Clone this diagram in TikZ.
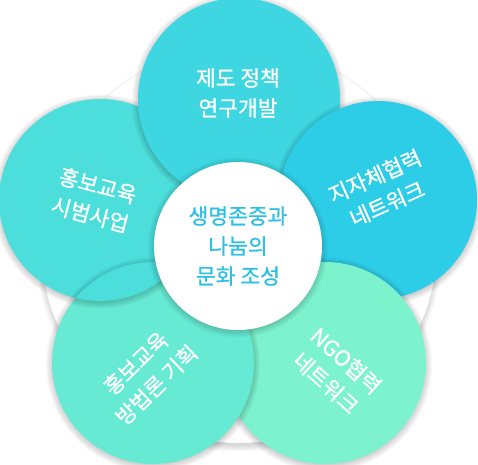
\documentclass[tikz,border=0pt]{standalone}
\usepackage{fontspec}
\setmainfont{Noto Sans CJK KR}
\newfontfamily\kfont[FakeBold=0.9]{Noto Sans CJK KR}
\definecolor{ctop}{HTML}{3DD6E1}
\definecolor{cright}{HTML}{2DCDE8}
\definecolor{cleft}{HTML}{4CDEDB}
\definecolor{cbl}{HTML}{66EAD3}
\definecolor{cbr}{HTML}{7CF2CD}
\definecolor{ctxt}{HTML}{2EC0E4}
\newcommand\softshadow[4]{%
  \foreach \k in {1,...,9}{\fill[black,opacity=#4] (#1,#2+1.5) circle[radius={(#3+\k*0.9)*1pt}];}}
\tikzset{
  x=1pt,y=-1pt,
  lbl/.style={text=white, align=center, font=\kfont\fontsize{21.5}{30}\selectfont},
  ctr/.style={text=ctxt, align=center, font=\kfont\fontsize{21.5}{30}\selectfont}
}
\begin{document}
\begin{tikzpicture}
\useasboundingbox (0,0) rectangle (478,464);
\begin{scope}
\clip (0,0) rectangle (478,464);
% background circle
\softshadow{239}{247}{195}{0.02}
\fill[white] (239,245) circle[radius=198pt];
% petals
\softshadow{100}{200}{99}{0.022}
\fill[cleft] (100,200) circle[radius=101pt];
\softshadow{239}{99}{99}{0.022}
\fill[ctop] (239,99) circle[radius=101pt];
\softshadow{378}{200}{97}{0.022}
\fill[cright] (378,200) circle[radius=99pt];
\softshadow{325}{363}{99}{0.022}
\fill[cbr] (325,363) circle[radius=101pt];
\softshadow{153}{363}{99}{0.022}
\fill[cbl] (153,363) circle[radius=101pt];
\begin{scope}
\clip (153,363) circle[radius=101pt];
\softshadow{100}{200}{99}{0.022}
\fill[cleft] (100,200) circle[radius=101pt];
\end{scope}
% centre
\softshadow{238}{246}{82}{0.02}
\fill[white] (238,246) circle[radius=84pt];
\end{scope}
\node[lbl] (ttop) at (238,93) {제도 정책\\연구개발};
\node[lbl, rotate=24] (tright) at (381,190) {지자체협력\\네트워크};
\node[lbl, rotate=-15] (tleft) at (94,200) {홍보교육\\시범사업};
\node[lbl, rotate=44] (tbl) at (146,374) {홍보교육\\방법론 기획};
\node[lbl, rotate=-42] (tbr) at (336,372) {NGO협력\\네트워크};
\node[ctr] (tc) at (238,246) {생명존중과\\나눔의\\문화 조성};
\end{tikzpicture}
\end{document}
